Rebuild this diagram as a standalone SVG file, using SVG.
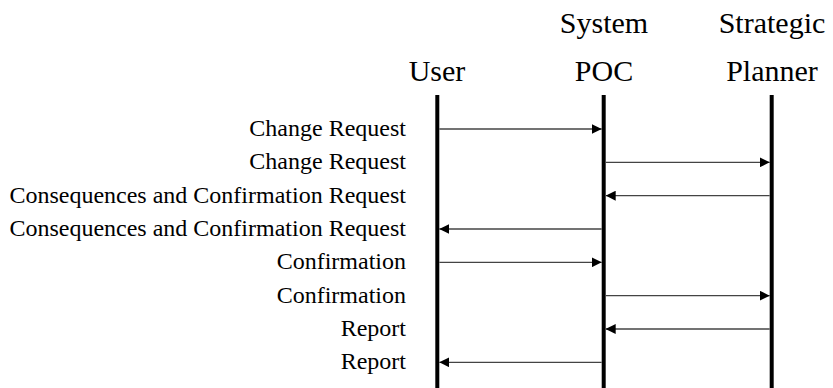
<svg xmlns="http://www.w3.org/2000/svg" width="833" height="388" viewBox="0 0 833 388">
<defs>
<marker id="ah" viewBox="0 0 10 10" markerUnits="userSpaceOnUse" markerWidth="10" markerHeight="10" refX="10" refY="5" orient="auto">
<path d="M0,0 L10,5 L0,10 z" fill="#000"/>
</marker>
<style>
.hdr{font-family:'Liberation Serif',serif;font-size:30px;fill:#000;text-anchor:middle}
.lbl{font-family:'Liberation Serif',serif;font-size:24px;fill:#000;text-anchor:end}
.life{stroke:#000;stroke-width:4}
.msg{stroke:#444;stroke-width:1.3;fill:none;marker-end:url(#ah)}
</style>
</defs>
<rect width="833" height="388" fill="#fff"/>
<g id="user">
<text class="hdr" x="437" y="81">User</text>
<line class="life" x1="437.3" y1="95" x2="437.3" y2="388"/>
</g>
<g id="poc">
<text class="hdr" x="604" y="33">System</text>
<text class="hdr" x="604" y="81">POC</text>
<line class="life" x1="603.7" y1="95" x2="603.7" y2="388"/>
</g>
<g id="planner">
<text class="hdr" x="772" y="33">Strategic</text>
<text class="hdr" x="772" y="81">Planner</text>
<line class="life" x1="771.7" y1="95" x2="771.7" y2="388"/>
</g>
<g id="labels">
<text class="lbl" x="406" y="136">Change Request</text>
<text class="lbl" x="406" y="169.3">Change Request</text>
<text class="lbl" x="406" y="202.7">Consequences and Confirmation Request</text>
<text class="lbl" x="406" y="236">Consequences and Confirmation Request</text>
<text class="lbl" x="406" y="269.3">Confirmation</text>
<text class="lbl" x="406" y="302.7">Confirmation</text>
<text class="lbl" x="406" y="336">Report</text>
<text class="lbl" x="406" y="369.3">Report</text>
</g>
<g id="connectors">
<line class="msg" x1="439.3" y1="129" x2="601.7" y2="129"/>
<line class="msg" x1="605.7" y1="162.3" x2="769.7" y2="162.3"/>
<line class="msg" x1="769.7" y1="195.7" x2="605.7" y2="195.7"/>
<line class="msg" x1="601.7" y1="229" x2="439.3" y2="229"/>
<line class="msg" x1="439.3" y1="262.3" x2="601.7" y2="262.3"/>
<line class="msg" x1="605.7" y1="295.7" x2="769.7" y2="295.7"/>
<line class="msg" x1="769.7" y1="329" x2="605.7" y2="329"/>
<line class="msg" x1="601.7" y1="362.3" x2="439.3" y2="362.3"/>
</g>
</svg>
